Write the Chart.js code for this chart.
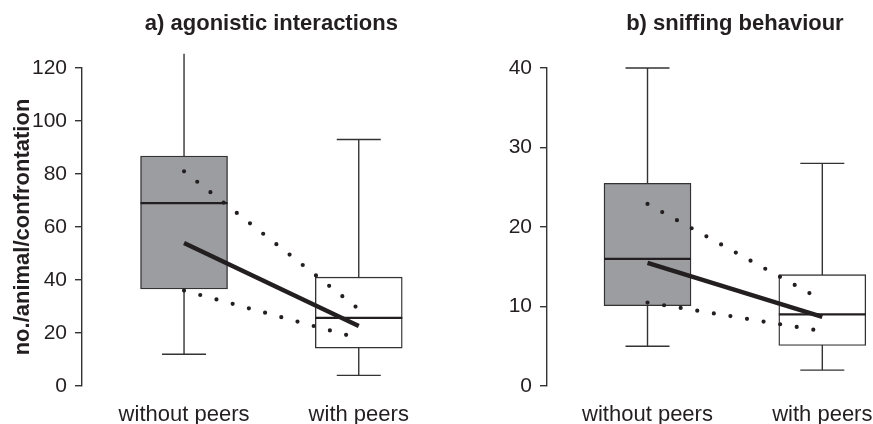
<!DOCTYPE html>
<html>
<head>
<meta charset="utf-8">
<script src="https://cdn.jsdelivr.net/npm/chart.js@4.4.1/dist/chart.umd.min.js"></script>
<style>
  html, body { margin: 0; padding: 0; background: #fff; overflow: hidden; }
  .panel { position: absolute; top: 0; height: 424px; }
  #panelA { left: 0; width: 440px; }
  #panelB { left: 440px; width: 433px; }
</style>
</head>
<body>
<div class="panel" id="panelA"><canvas id="chartA" width="440" height="424"></canvas></div>
<div class="panel" id="panelB"><canvas id="chartB" width="433" height="424"></canvas></div>
<script>
// ---- data ----
const groups = ['without peers', 'with peers'];

// a) agonistic interactions
const aQ1 = [36.6, 14.3];
const aQ3 = [86.8, 41.1];
const aMedian = [69, 25.7];
const aMin = [12, 4];
const aMax = [130, 93];
const aMean = [54, 22.6];
const aUpper = [81, 29];
const aLower = [36, 18];
const aTicks = [0, 20, 40, 60, 80, 100, 120];

// b) sniffing behaviour
const bQ1 = [10.1, 5.1];
const bQ3 = [25.5, 14];
const bMedian = [16, 9];
const bMin = [5, 2];
const bMax = [40, 28];
const bMean = [15.5, 8.7];
const bUpper = [22.9, 10.8];
const bLower = [10.5, 6.9];
const bTicks = [0, 10, 20, 30, 40];

// ---- styles ----
const INK = '#231f20';
const LINE = '#333333';
const GRAY = '#9c9da0';
const FONT = "'Liberation Sans', Arial, Helvetica, sans-serif";
const CAP_HALF = 22;

// whiskers, caps, medians and panel title, all placed with the chart scales
const boxExtras = {
  id: 'boxExtras',
  beforeDatasetsDraw(chart, args, opts) {
    const { ctx, scales: { x, y } } = chart;
    const top = y.getPixelForValue(opts.clipTop) - 1;
    ctx.save();
    ctx.beginPath();
    ctx.rect(0, top, chart.width, chart.height - top);
    ctx.clip();
    ctx.strokeStyle = LINE;
    ctx.lineWidth = 1.4;
    opts.lo.forEach((lo, i) => {
      const cx = x.getPixelForValue(i);
      const yLo = y.getPixelForValue(lo);
      const yHi = y.getPixelForValue(opts.hi[i]);
      ctx.beginPath();
      ctx.moveTo(cx, yLo);
      ctx.lineTo(cx, yHi);
      ctx.moveTo(cx - CAP_HALF, yLo);
      ctx.lineTo(cx + CAP_HALF, yLo);
      ctx.moveTo(cx - CAP_HALF, yHi);
      ctx.lineTo(cx + CAP_HALF, yHi);
      ctx.stroke();
    });
    ctx.restore();
  },
  afterDatasetDraw(chart, args, opts) {
    if (args.index !== 0) return;
    const { ctx, scales: { y } } = chart;
    const meta = chart.getDatasetMeta(0);
    ctx.save();
    ctx.strokeStyle = INK;
    ctx.lineWidth = 2.2;
    meta.data.forEach((bar, i) => {
      const p = bar.getProps(['x', 'width']);
      const yy = y.getPixelForValue(opts.median[i]);
      ctx.beginPath();
      ctx.moveTo(p.x - p.width / 2, yy);
      ctx.lineTo(p.x + p.width / 2, yy);
      ctx.stroke();
    });
    ctx.restore();
  },
  afterDraw(chart, args, opts) {
    const { ctx, scales: { x } } = chart;
    const cx = (x.getPixelForValue(0) + x.getPixelForValue(groups.length - 1)) / 2;
    ctx.save();
    ctx.fillStyle = INK;
    ctx.font = 'bold 22px ' + FONT;
    ctx.textAlign = 'center';
    ctx.textBaseline = 'middle';
    ctx.fillText(opts.title, cx, 24);
    ctx.restore();
  }
};

function boxData(q1, q3) {
  return q1.map((v, i) => ({ x: i, y: [v, q3[i]] }));
}

function lineData(vals) {
  return vals.map((v, i) => ({ x: i, y: v }));
}

function dotted(vals) {
  return {
    type: 'line',
    data: lineData(vals),
    borderColor: INK,
    borderWidth: 4.2,
    borderDash: [0, 16.8],
    borderCapStyle: 'round',
    pointRadius: 0,
    order: 2
  };
}

function makeChart(id, p) {
  return new Chart(document.getElementById(id), {
    type: 'bar',
    data: {
      datasets: [
        {
          type: 'bar',
          data: boxData(p.q1, p.q3),
          backgroundColor: [GRAY, '#ffffff'],
          borderColor: LINE,
          borderWidth: 1.4,
          borderSkipped: false,
          barThickness: 87,
          order: 3
        },
        dotted(p.upper),
        dotted(p.lower),
        {
          type: 'line',
          data: lineData(p.mean),
          borderColor: INK,
          borderWidth: 4.4,
          pointRadius: 0,
          order: 1
        }
      ]
    },
    options: {
      responsive: false,
      animation: false,
      devicePixelRatio: 1,
      layout: { padding: { top: 68, left: 0, right: 0, bottom: 0 } },
      plugins: {
        legend: { display: false },
        tooltip: { enabled: false },
        boxExtras: { title: p.title, lo: p.min, hi: p.max, median: p.median, clipTop: p.clipTop }
      },
      scales: {
        x: {
          type: 'linear',
          min: p.xMin,
          max: p.xMax,
          offset: false,
          grid: { display: false, drawTicks: true, tickLength: 16, offset: false },
          border: { display: false },
          afterBuildTicks: ax => { ax.ticks = groups.map((g, i) => ({ value: i })); },
          afterFit: s => { s.height = 38; },
          ticks: {
            callback: v => groups[v],
            font: { family: FONT, size: 22 },
            color: INK,
            padding: 0,
            maxRotation: 0,
            autoSkip: false
          }
        },
        y: {
          min: 0,
          max: p.yMax,
          afterBuildTicks: ax => { ax.ticks = p.ticks.map(v => ({ value: v })); },
          afterFit: s => { s.width = p.axisX; },
          grid: { drawOnChartArea: false, drawTicks: true, tickLength: 7, color: LINE, lineWidth: 1.4 },
          border: { display: true, color: LINE, width: 1.4 },
          ticks: { font: { family: FONT, size: 21 }, color: INK, padding: 8 },
          title: {
            display: !!p.yTitle,
            text: p.yTitle || '',
            font: { family: FONT, size: 22, weight: 'bold' },
            color: INK,
            padding: { top: 10, bottom: 0 }
          }
        }
      }
    },
    plugins: [boxExtras]
  });
}

makeChart('chartA', {
  title: 'a) agonistic interactions', yTitle: 'no./animal/confrontation',
  q1: aQ1, q3: aQ3, median: aMedian, min: aMin, max: aMax,
  mean: aMean, upper: aUpper, lower: aLower, ticks: aTicks,
  yMax: 120, clipTop: 125, axisX: 82, xMin: -0.584, xMax: 1.465
});

makeChart('chartB', {
  title: 'b) sniffing behaviour',
  q1: bQ1, q3: bQ3, median: bMedian, min: bMin, max: bMax,
  mean: bMean, upper: bUpper, lower: bLower, ticks: bTicks,
  yMax: 40, clipTop: 40, axisX: 107, xMin: -0.575, xMax: 1.29
});
</script>
</body>
</html>
